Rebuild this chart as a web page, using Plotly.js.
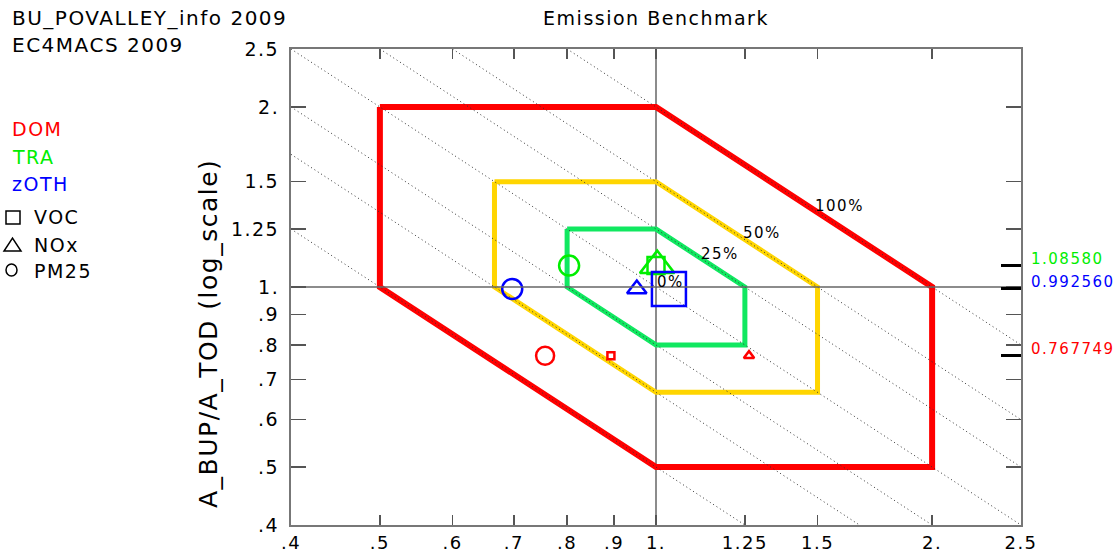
<!DOCTYPE html>
<html>
<head>
<meta charset="utf-8">
<script src="https://cdn.plot.ly/plotly-3.0.1.min.js"></script>
<style>
  html, body { margin: 0; padding: 0; background: #fff; }
  #chart { width: 1116px; height: 555px; }
  text { letter-spacing: 1.5px; }
</style>
</head>
<body>
<div id="chart"></div>
<script>
// Sectors and the A_BUP/A_TOD ratio of each sector
const sectors = ['DOM', 'TRA', 'zOTH'];
const sectorColors = ['#ff0000', '#00ee00', '#0000ff'];
const sectorRatio = [0.767749, 1.08580, 0.992560];
const sectorRatioText = ['0.767749', '1.08580', '0.992560'];

// Pollutants and the x ratio of each sector/pollutant pair
const pollutants = ['VOC', 'NOx', 'PM25'];
const pollutantSymbols = ['square-open', 'triangle-up-open', 'circle-open'];
const ratioDOM = [0.893, 1.263, 0.757];
const ratioTRA = [1.000, 1.003, 0.804];
const ratioOTH = [1.033, 0.953, 0.697];
const sectorRatios = [ratioDOM, ratioTRA, ratioOTH];

// Marker sizes per sector (VOC, NOx, PM25)
const sizeDOM = [7, 9, 18];
const sizeTRA = [17, 30, 20];
const sizeOTH = [34, 17, 20];
const sectorSizes = [sizeDOM, sizeTRA, sizeOTH];

// Benchmark bands (hexagon corners)
const band100X = [0.5, 1, 2, 2, 1, 0.5, 0.5];
const band100Y = [2, 2, 1, 0.5, 0.5, 1, 2];
const band50X = [2/3, 1, 1.5, 1.5, 1, 2/3, 2/3];
const band50Y = [1.5, 1.5, 1, 2/3, 2/3, 1, 1.5];
const band25X = [0.8, 1, 1.25, 1.25, 1, 0.8, 0.8];
const band25Y = [1.25, 1.25, 1, 0.8, 0.8, 1, 1.25];
const bandLabels = ['0%', '25%', '50%', '100%'];
const bandLabelX = [1.038, 1.174, 1.305, 1.587];
const bandLabelY = [1.019, 1.1355, 1.231, 1.366];

// Constant-product guide lines x*y = c
const guideProducts = [0.5, 2/3, 0.8, 1.0, 1.25, 1.5, 2.0];

// Axis ticks
const tickVals = [0.4, 0.5, 0.6, 0.7, 0.8, 0.9, 1, 1.25, 1.5, 2, 2.5];
const tickText = ['.4', '.5', '.6', '.7', '.8', '.9', '1.', '1.25', '1.5', '2.', '2.5'];
const axisMin = 0.4, axisMax = 2.5;

const FONT = 'DejaVu Sans, Liberation Sans, Arial, sans-serif';
const L = Math.log10;

// plot frame in pixels, for placing margin text
const plotLeft = 291, plotRight = 1021, plotTop = 49, plotBottom = 525;
const px = v => (v - plotLeft) / (plotRight - plotLeft);
const py = v => (plotBottom - v) / (plotBottom - plotTop);

const traces = [];

// reference cross at 1,1
traces.push({x: [1, 1], y: [axisMin, axisMax], mode: 'lines',
  line: {color: '#666', width: 1.5}, hoverinfo: 'skip', showlegend: false});
traces.push({x: [axisMin, axisMax], y: [1, 1], mode: 'lines', yaxis: 'y2',
  line: {color: '#666', width: 1.5}, hoverinfo: 'skip', showlegend: false});

// benchmark hexagons
[[band100X, band100Y, '#ff0000', 6], [band50X, band50Y, '#ffd500', 5], [band25X, band25Y, '#10e860', 5]]
  .forEach(([bx, by, c, w]) => {
    traces.push({x: bx, y: by, mode: 'lines', line: {color: c, width: w},
      hoverinfo: 'skip', showlegend: false});
  });

// dotted guide lines
guideProducts.forEach(c => {
  const x0 = Math.max(axisMin, c / axisMax);
  const x1 = Math.min(axisMax, c / axisMin);
  traces.push({x: [x0, x1], y: [c / x0, c / x1], mode: 'lines',
    line: {color: '#333', width: 1, dash: '1px,3px'}, hoverinfo: 'skip', showlegend: false});
});

// sector markers
sectors.forEach((s, i) => {
  traces.push({
    x: sectorRatios[i],
    y: pollutants.map(() => sectorRatio[i]),
    text: pollutants,
    name: s,
    mode: 'markers',
    marker: {symbol: pollutantSymbols, size: sectorSizes[i], color: sectorColors[i], opacity: 1,
      line: {width: 2.5, color: sectorColors[i]}},
    showlegend: false
  });
});

const annotations = [];
const shapes = [];

// band labels
bandLabels.forEach((t, i) => {
  annotations.push({x: L(bandLabelX[i]), y: L(bandLabelY[i]), xref: 'x', yref: 'y',
    text: t, showarrow: false, xanchor: 'center', yanchor: 'middle',
    font: {family: FONT, size: 15, color: '#000'}});
});

// sector ratio values on the right
sectors.forEach((s, i) => {
  annotations.push({x: 1, xref: 'paper', y: L(sectorRatio[i]), yref: 'y',
    xshift: 8, yshift: 7, text: sectorRatioText[i],
    showarrow: false, xanchor: 'left', yanchor: 'middle',
    font: {family: FONT, size: 15, color: sectorColors[i]}});
});

// header texts
annotations.push({x: px(10), y: py(18), xref: 'paper', yref: 'paper', text: 'BU_POVALLEY_info 2009',
  showarrow: false, xanchor: 'left', yanchor: 'middle', font: {family: FONT, size: 20, color: '#000'}});
annotations.push({x: px(10), y: py(45), xref: 'paper', yref: 'paper', text: 'EC4MACS 2009',
  showarrow: false, xanchor: 'left', yanchor: 'middle', font: {family: FONT, size: 20, color: '#000'}});

// sector legend
const sectorLegendY = [129, 157, 184];
sectors.forEach((s, i) => {
  annotations.push({x: px(10), y: py(sectorLegendY[i]), xref: 'paper', yref: 'paper', text: s,
    showarrow: false, xanchor: 'left', yanchor: 'middle',
    font: {family: FONT, size: 19, color: sectorColors[i]}});
});

// pollutant legend
const polLegendY = [217, 245, 271];
pollutants.forEach((p, i) => {
  annotations.push({x: px(32), y: py(polLegendY[i]), xref: 'paper', yref: 'paper', text: p,
    showarrow: false, xanchor: 'left', yanchor: 'middle',
    font: {family: FONT, size: 19, color: '#000'}});
});
const symLine = {color: '#000', width: 1.5};
shapes.push({type: 'rect', xref: 'paper', yref: 'paper', x0: px(6), x1: px(20), y0: py(224), y1: py(211), line: symLine});
shapes.push({type: 'path', xref: 'paper', yref: 'paper',
  path: `M ${px(4)},${py(251)} L ${px(21)},${py(251)} L ${px(12.5)},${py(238)} Z`, line: symLine});
shapes.push({type: 'circle', xref: 'paper', yref: 'paper', x0: px(6), x1: px(17), y0: py(276), y1: py(264), line: symLine});

// y axis title
annotations.push({x: px(208), y: py(334), xref: 'paper', yref: 'paper', text: 'A_BUP/A_TOD (log_scale)',
  textangle: -90, showarrow: false, xanchor: 'center', yanchor: 'middle',
  font: {family: FONT, size: 25, color: '#000'}});

const axisCommon = {
  type: 'log', range: [L(axisMin), L(axisMax)],
  tickmode: 'array', tickvals: tickVals, ticktext: tickText,
  ticks: 'inside', mirror: 'ticks', showline: true, linecolor: '#777', linewidth: 2,
  tickcolor: '#555', tickwidth: 1.5,
  showgrid: false, zeroline: false,
  tickfont: {family: FONT, size: 19, color: '#000'}
};

const layout = {
  width: 1116, height: 555,
  margin: {l: plotLeft, r: 1116 - plotRight, t: plotTop, b: 555 - plotBottom, pad: 0},
  paper_bgcolor: '#fff', plot_bgcolor: '#fff',
  showlegend: false,
  title: {text: 'Emission Benchmark', x: 0.5, xref: 'paper', xanchor: 'center',
    y: 1 - 18 / 555, yanchor: 'middle', font: {family: FONT, size: 19, color: '#000'}},
  xaxis: Object.assign({}, axisCommon, {ticklen: 10, ticklabelstandoff: 0,
    tickfont: {family: FONT, size: 18, color: '#000'}}),
  yaxis: Object.assign({}, axisCommon, {ticklen: 15, ticklabelstandoff: 6}),
  yaxis2: {type: 'log', range: [L(axisMin), L(axisMax)], overlaying: 'y', side: 'right',
    tickmode: 'array', tickvals: sectorRatio, ticks: 'inside', ticklen: 20, tickwidth: 3,
    tickcolor: '#000', showticklabels: false, showline: false, showgrid: false, zeroline: false},
  annotations: annotations,
  shapes: shapes
};

Plotly.newPlot('chart', traces, layout, {staticPlot: true, displayModeBar: false});
</script>
</body>
</html>
